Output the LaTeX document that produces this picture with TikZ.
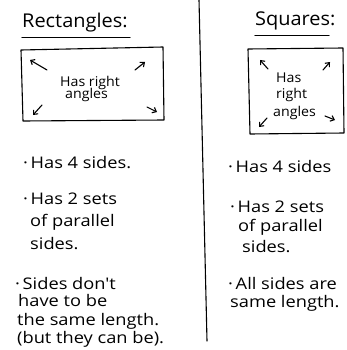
\documentclass[tikz,border=0pt]{standalone}
\usepackage{fontspec}
\setmainfont{Open Sans}[FakeStretch=1.05]
\newfontfamily\bodyfont{Open Sans}[FakeStretch=1.14]
\usetikzlibrary{arrows.meta}
\begin{document}
\begin{tikzpicture}[x=1pt,y=-1pt,
  ink/.style={line width=1.1pt,line cap=round,line join=round,black},
  arr/.style={ink,-{Straight Barb[length=3.5pt,width=6pt]}},
  title/.style={anchor=base west,inner sep=0pt,font=\fontsize{19}{19}\selectfont},
  txt/.style={anchor=base west,inner sep=0pt,font=\bodyfont\fontsize{16}{16}\selectfont},
  intxt/.style={anchor=base west,inner sep=0pt,font=\fontsize{13.5}{14}\selectfont}]
\useasboundingbox (0,0) rectangle (347,350);
\fill[white] (0,0) rectangle (347,350);
% divider
\coordinate (dt) at (199,0);
\coordinate (db) at (207,341);
\draw[ink] (dt) -- (db);
% titles
\node[title] (rt) at (22,28) {Rectangles:};
\draw[ink] (rt.south west) ++(0,5) -- ++(108,0);
\node[title] (st) at (255,26) {Squares:};
\draw[ink] (st.south west) ++(0,5) -- ++(74,0);
% rectangle box
\draw[ink] (21,50) -- (163,47) -- (164,120) -- (23,121) -- cycle;
\node[intxt] (r1) at (60,87) {Has right};
\node[intxt] (r2) at (65,99) {angles};
\coordinate (ra1) at (47,70); \coordinate (ra1t) at (30,60);
\coordinate (ra2) at (135,70); \coordinate (ra2t) at (145,62);
\coordinate (ra3) at (42,105); \coordinate (ra3t) at (33,115);
\coordinate (ra4) at (147,107); \coordinate (ra4t) at (157,112);
\draw[arr] (ra1) -- (ra1t);
\draw[arr] (ra2) -- (ra2t);
\draw[arr] (ra3) -- (ra3t);
\draw[arr] (ra4) -- (ra4t);
% square box
\draw[ink] (248,49) -- (343,48) -- (344,133) -- (250,134) -- cycle;
\node[intxt] (s1) at (276,83) {Has};
\node[intxt] (s2) at (276,99) {right};
\node[intxt] (s3) at (273,116) {angles};
\coordinate (sa1) at (268,69); \coordinate (sa1t) at (260,60);
\coordinate (sa2) at (323,70); \coordinate (sa2t) at (330,62);
\coordinate (sa3) at (267,118); \coordinate (sa3t) at (259,127);
\coordinate (sa4) at (325,116); \coordinate (sa4t) at (335,120);
\draw[arr] (sa1) -- (sa1t);
\draw[arr] (sa2) -- (sa2t);
\draw[arr] (sa3) -- (sa3t);
\draw[arr] (sa4) -- (sa4t);
% left bullets
\node[txt] (l1) at (23,168) {·\,Has 4 sides.};
\node[txt] (l2) at (23,204) {·\,Has 2 sets};
\node[txt] (l3) at (30,226) {of parallel};
\node[txt] (l4) at (30,249) {sides.};
\node[txt] (l5) at (15,289) {·\,Sides don't};
\node[txt] (l6) at (18,306) {have to be};
\node[txt] (l7) at (17,325) {the same length.};
\node[txt] (l8) at (17,343) {(but they can be).};
% right bullets
\node[txt] (q1) at (228,172) {·\,Has 4 sides};
\node[txt] (q2) at (230,212) {·\,Has 2 sets};
\node[txt] (q3) at (238,231) {of parallel};
\node[txt] (q4) at (242,252) {sides.};
\node[txt] (q5) at (228,289) {·\,All sides are};
\node[txt] (q6) at (230,307) {same length.};
\end{tikzpicture}
\end{document}
